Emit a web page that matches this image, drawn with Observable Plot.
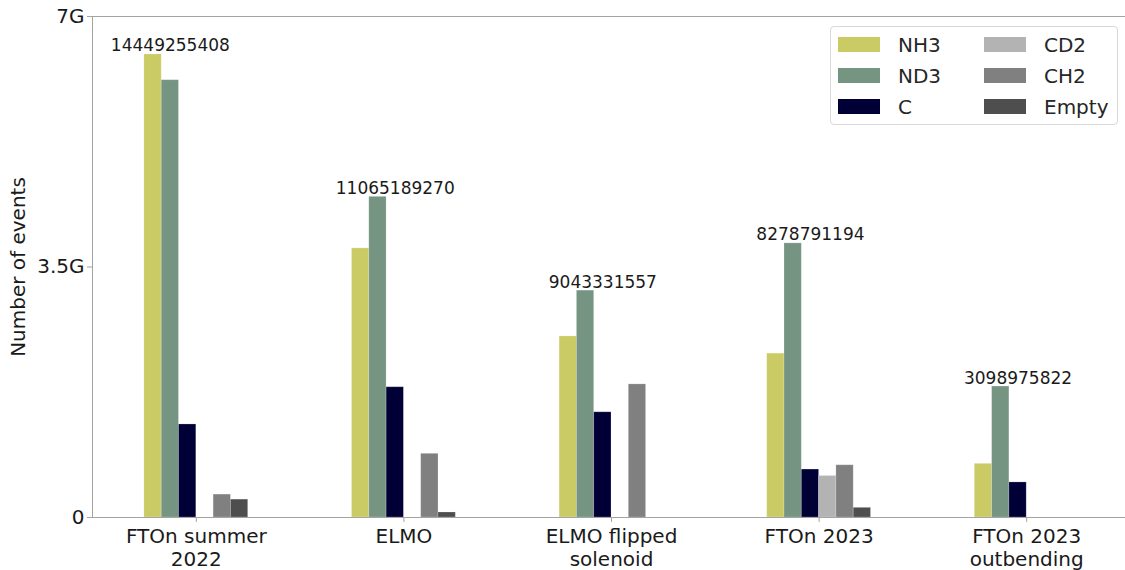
<!DOCTYPE html>
<html>
<head>
<meta charset="utf-8">
<script src="https://cdn.jsdelivr.net/npm/d3@7"></script>
<script src="https://cdn.jsdelivr.net/npm/@observablehq/plot@0.6"></script>
<style>
  html, body { margin: 0; padding: 0; background: #fff; overflow: hidden; }
  #wrap { position: relative; width: 1125px; height: 570px; overflow: hidden; font-family: "DejaVu Sans", sans-serif; }
  #legend { position: absolute; left: 830px; top: 26px; width: 288px; height: 99px; box-sizing: border-box;
            border: 1px solid #d8d8d8; border-radius: 4px; background: rgba(255,255,255,0.85);
            padding: 2px 0 0 7px; display: grid; grid-template-columns: 146px auto; grid-auto-flow: column; grid-template-rows: 31px 31px 31px; }
  .item { display: flex; align-items: center; font-size: 20px; color: #262626; }
  .sw { width: 42px; height: 15px; margin-right: 18px; }
</style>
</head>
<body>
<div id="wrap"><div id="chart"></div><div id="legend"></div></div>
<script>
// ---- data ----
const groups = ["FTOn summer\n2022", "ELMO", "ELMO flipped\nsolenoid", "FTOn 2023", "FTOn 2023\noutbending"];
const series = ["NH3", "ND3", "C", "CD2", "CH2", "Empty"];
const colors = ["#cbcb66", "#759481", "#000036", "#b3b3b3", "#808080", "#4e4e4e"];
// values in billions of events
const NH3   = [6.47, 3.76, 2.53, 2.29, 0.75];
const ND3   = [6.11, 4.48, 3.17, 3.83, 1.83];
const C     = [1.30, 1.82, 1.47, 0.67, 0.49];
const CD2   = [0,    0,    0,    0.58, 0];
const CH2   = [0.32, 0.89, 1.86, 0.73, 0];
const Empty = [0.25, 0.07, 0,    0.135, 0];
const totals = [14449255408, 11065189270, 9043331557, 8278791194, 3098975822];
const yTicks = [0, 3.5e9, 7e9];

// ---- build table ----
const seriesValues = [NH3, ND3, C, CD2, CH2, Empty];
const data = [];
groups.forEach((g, gi) => series.forEach((s, si) => {
  data.push({group: g, series: s, value: seriesValues[si][gi] * 1e9});
}));
const labels = groups.map((g, gi) => {
  const vals = seriesValues.map(v => v[gi]);
  const m = d3.maxIndex(vals);
  return {group: g, series: series[Math.min(m + 1, series.length - 1)], value: vals[m] * 1e9, text: String(totals[gi])};
});

const spine = "#a3a3a3";
const chart = Plot.plot({
  width: 1125,
  height: 570,
  marginLeft: 92,
  marginRight: -5,
  marginTop: 16,
  marginBottom: 53,
  style: {fontFamily: "DejaVu Sans, sans-serif", background: "white", color: "#262626"},
  fx: {domain: groups, padding: 0, round: false},
  x: {domain: series, paddingInner: 0, paddingOuter: 3, axis: null, round: false},
  y: {domain: [0, 7e9]},
  color: {domain: series, range: colors},
  marks: [
    Plot.barY(data.filter(d => d.value > 0), {fx: "group", x: "series", y: "value", fill: "series", stroke: "white", strokeOpacity: 0.25, strokeWidth: 0.8}),
    Plot.text(labels, {fx: "group", x: "series", y: "value", text: "text", fontSize: 17, fill: "#1a1a1a", lineAnchor: "bottom", dy: -3}),
    Plot.frame({anchor: "top", stroke: spine, strokeWidth: 1.3, shapeRendering: "crispEdges"}),
    Plot.frame({anchor: "bottom", stroke: spine, strokeWidth: 1.3, shapeRendering: "crispEdges"}),
    Plot.frame({anchor: "left", facetAnchor: "left", stroke: spine, strokeWidth: 1.3, shapeRendering: "crispEdges"}),
    Plot.axisY({ticks: yTicks, tickFormat: d => d === 0 ? "0" : (d / 1e9) + "G", fontSize: 20, tickSize: 5, tickPadding: 3,
                stroke: spine, fill: "#1a1a1a", label: "Number of events", labelAnchor: "center", labelOffset: 82, labelArrow: "none"}),
    Plot.axisFx({anchor: "bottom", fontSize: 20, tickSize: 5, tickPadding: 4, lineHeight: 1.15, stroke: spine, fill: "#1a1a1a", label: null})
  ]
});
document.getElementById("chart").appendChild(chart);

// legend
const leg = document.getElementById("legend");
series.forEach((s, i) => {
  const it = document.createElement("div");
  it.className = "item";
  it.innerHTML = `<span class="sw" style="background:${colors[i]}"></span><span>${s}</span>`;
  leg.appendChild(it);
});
</script>
</body>
</html>
